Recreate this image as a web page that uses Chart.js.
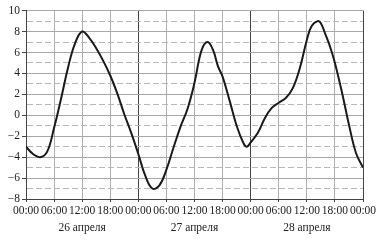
<!DOCTYPE html>
<html>
<head>
<meta charset="utf-8">
<script src="https://cdn.jsdelivr.net/npm/chart.js@4.4.1/dist/chart.umd.min.js"></script>
<style>
  body { margin: 0; background: #fff; }
  canvas { display: block; }
</style>
</head>
<body>
<canvas id="tempChart" width="383" height="240"></canvas>
<script>
// hours from 00:00 of 26 April, temperature in degrees
const hours = [0, 1.5, 3, 4.5, 6, 7.5, 9, 10.5, 12, 13.5, 15, 16.5, 18, 19.5, 21, 22.5,
    24, 25.5, 27, 28.5, 30, 31.5, 33, 34.5, 36, 37.5, 38.8, 40, 41, 42, 43.5, 45, 46.5, 47.2,
    48, 49.5, 51, 52.5, 54, 55.5, 57, 58.5, 60, 61, 62.3, 63, 64, 65, 66, 67.5, 69, 70.5, 72];
const temps = [-3.0, -3.7, -4.0, -3.5, -1.2, 1.6, 4.6, 6.9, 8.0, 7.4, 6.4, 5.2, 3.8, 2.1, 0.1, -1.7,
    -3.7, -5.8, -7.0, -6.7, -5.2, -3.1, -1.1, 0.6, 3.1, 6.2, 7.0, 6.2, 4.7, 3.7, 1.4, -1.0, -2.7, -3.0,
    -2.6, -1.7, -0.3, 0.7, 1.2, 1.65, 2.6, 4.5, 7.2, 8.5, 9.0, 8.8, 7.7, 6.5, 5.0, 2.2, -0.9, -3.6, -5.0];
const dayLabels = ['26 апреля', '27 апреля', '28 апреля'];
const timeLabels = ['00:00', '06:00', '12:00', '18:00'];
const yMin = -8;
const yMax = 10;

const textFont = { family: 'Liberation Serif', size: 11.5, lineHeight: 1.5 };

function xLabel(value) {
    const h = value % 24;
    const label = timeLabels[h / 6];
    if (h === 12) {
        return [label, dayLabels[Math.floor(value / 24)]];
    }
    return label;
}

function yLabel(value) {
    if (value % 2 !== 0) return '';
    return value < 0 ? '\u2212' + Math.abs(value) : String(value);
}

const ctx = document.getElementById('tempChart').getContext('2d');
const tempChart = new Chart(ctx, {
    type: 'line',
    data: {
        datasets: [{
            data: hours.map((h, i) => ({ x: h, y: temps[i] })),
            borderColor: '#1a1a1a',
            borderWidth: 2,
            pointRadius: 0,
            tension: 0.4,
            fill: false
        }]
    },
    options: {
        responsive: false,
        animation: false,
        layout: { padding: { top: 1, right: 20, bottom: 0, left: 0 } },
        plugins: { legend: { display: false }, tooltip: { enabled: false } },
        scales: {
            x: {
                type: 'linear',
                min: 0,
                max: 72,
                afterFit: (scale) => { scale.height = 41; },
                ticks: {
                    stepSize: 6,
                    autoSkip: false,
                    maxRotation: 0,
                    padding: 0,
                    color: '#222',
                    font: textFont,
                    callback: xLabel
                },
                grid: {
                    color: (c) => (c.tick && c.tick.value % 24 === 0) ? '#444' : '#b0b0b0',
                    tickColor: '#444',
                    tickLength: 3
                },
                border: { color: '#444' }
            },
            y: {
                min: yMin,
                max: yMax,
                afterFit: (scale) => { scale.width = 26; },
                ticks: {
                    stepSize: 1,
                    autoSkip: false,
                    padding: 2,
                    color: '#222',
                    font: textFont,
                    callback: yLabel
                },
                grid: {
                    color: (c) => (c.tick && c.tick.value % 2 !== 0) ? '#b8b8b8' : '#a8a8a8',
                    tickColor: (c) => (c.tick && c.tick.value % 2 !== 0) ? 'rgba(0,0,0,0)' : '#444',
                    tickLength: 4
                },
                border: {
                    color: '#444',
                    dash: (c) => (c.tick && c.tick.value % 2 !== 0) ? [6, 3] : []
                }
            }
        }
    }
});
</script>
</body>
</html>
